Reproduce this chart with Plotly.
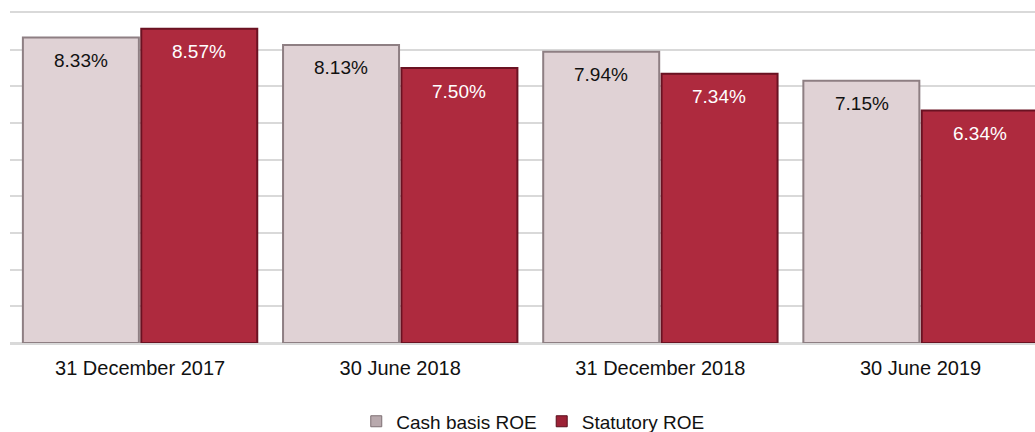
import plotly.graph_objects as go

categories = ["31 December 2017", "30 June 2018", "31 December 2018", "30 June 2019"]
cash_roe = [8.33, 8.13, 7.94, 7.15]
statutory_roe = [8.57, 7.50, 7.34, 6.34]
series_names = ["Cash basis ROE", "Statutory ROE"]

FONT = "Liberation Sans"
CASH_COLOR = "#E0D2D5"
STAT_COLOR = "#AE2A3E"
GRID = "#D9D9D9"

fig = go.Figure()
fig.add_trace(go.Bar(
    name=series_names[0], x=categories, y=cash_roe, showlegend=False,
    marker=dict(color=CASH_COLOR, line=dict(color="#8E7F83", width=2)),
))
fig.add_trace(go.Bar(
    name=series_names[1], x=categories, y=statutory_roe, showlegend=False,
    marker=dict(color=STAT_COLOR, line=dict(color="#6A1222", width=2)),
))

# legend entries with small square symbols
fig.add_trace(go.Scatter(
    name=series_names[0], x=[None], y=[None], mode="markers",
    marker=dict(symbol="square", size=11, color="#B8A9AD", line=dict(color="#7E6F73", width=1)),
))
fig.add_trace(go.Scatter(
    name=series_names[1], x=[None], y=[None], mode="markers",
    marker=dict(symbol="square", size=11, color="#9C2236", line=dict(color="#5A0E1C", width=1)),
))

# value labels inside the bars, near the top
for vals, shift, col in [(cash_roe, -59, "#111111"), (statutory_roe, 59, "#FFFFFF")]:
    for c, v in zip(categories, vals):
        fig.add_annotation(
            x=c, y=v, xref="x", yref="y", text="%.2f%%" % v,
            showarrow=False, xshift=shift, yshift=-23, yanchor="middle",
            font=dict(color=col, size=19, family=FONT),
        )

fig.update_layout(
    width=1035, height=432,
    margin=dict(l=10, r=0, t=13, b=89, autoexpand=False),
    paper_bgcolor="white", plot_bgcolor="white",
    barmode="group", bargap=0.09, bargroupgap=0.02,
    font=dict(family=FONT, size=19, color="#111111"),
    showlegend=True,
    legend=dict(orientation="h", x=0.51, xanchor="center", y=-0.18, yanchor="top",
                font=dict(size=19, family=FONT, color="#111111"), itemwidth=30,
                tracegroupgap=0, bgcolor="rgba(0,0,0,0)"),
)
fig.update_xaxes(range=[-0.5, 3.44], ticks="",
                 showline=True, mirror=True, linecolor=GRID, linewidth=1.5,
                 ticklabelstandoff=6,
                 tickfont=dict(size=20, family=FONT, color="#111111"))
fig.update_yaxes(range=[0, 9.0], dtick=1, showgrid=True, gridcolor=GRID,
                 gridwidth=1.5, showticklabels=False, zeroline=True,
                 zerolinecolor=GRID, zerolinewidth=1.5)

fig.write_html("out.html", config={"displayModeBar": False},
               post_script="document.body.style.margin='0';")
